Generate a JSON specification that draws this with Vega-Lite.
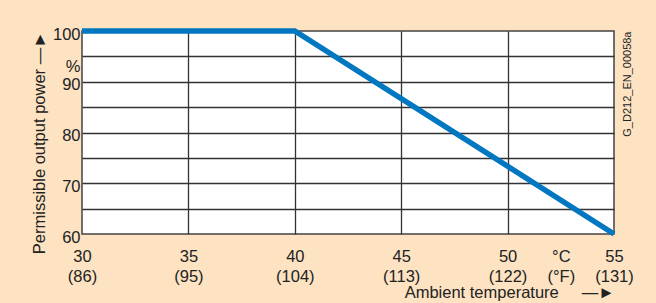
{
  "$schema": "https://vega.github.io/schema/vega-lite/v6.json",
  "width": 532,
  "height": 203,
  "autosize": {"type": "none"},
  "padding": {"left": 82, "top": 31, "right": 42, "bottom": 69},
  "background": "#FDE3C2",
  "config": {
    "font": "Liberation Sans",
    "view": {"fill": "white", "stroke": "#444444", "strokeWidth": 1.5}
  },
  "data": {
    "values": [
      {"temp": 30, "power": 100},
      {"temp": 40, "power": 100},
      {"temp": 55, "power": 60}
    ]
  },
  "layer": [
    {
      "mark": {"type": "line", "color": "#0077C0", "strokeWidth": 5.5, "clip": false, "strokeCap": "butt", "strokeJoin": "miter"},
      "encoding": {
        "x": {
          "field": "temp", "type": "quantitative",
          "scale": {"domain": [30, 55], "nice": false},
          "axis": {
            "values": [30, 35, 40, 45, 50, 52.5, 55],
            "labelExpr": "datum.value == 52.5 ? ['°C', '(°F)'] : [datum.label, '(' + format(datum.value * 9 / 5 + 32, 'd') + ')']",
            "labelFontSize": 16.5,
            "labelColor": "#222222",
            "labelLineHeight": 20,
            "labelPadding": 14,
            "labelFlush": false,
            "labelOverlap": false,
            "ticks": false,
            "domain": false,
            "grid": true,
            "gridColor": "#333333",
            "gridWidth": 1.3,
            "gridOpacity": {"condition": {"test": "datum.value == 52.5 || datum.value == 30 || datum.value == 55", "value": 0}, "value": 1},
            "title": "Ambient temperature\u00a0\u00a0\u00a0\u00a0\u00a0—►",
            "titleFontSize": 16.5,
            "titleFontWeight": "normal",
            "titleColor": "#222222",
            "titleAnchor": "end",
            "titlePadding": 0
          }
        },
        "y": {
          "field": "power", "type": "quantitative",
          "scale": {"domain": [60, 100], "nice": false, "zero": false},
          "axis": {
            "values": [60, 65, 70, 75, 80, 85, 90, 93.5, 95, 100],
            "labelExpr": "datum.value == 93.5 ? '%' : (datum.value % 10 == 0 ? datum.label : '')",
            "labelFontSize": 16.5,
            "labelColor": "#222222",
            "labelPadding": 2,
            "labelOffset": 3,
            "labelFlush": false,
            "labelOverlap": false,
            "labelBaseline": "middle",
            "ticks": false,
            "domain": false,
            "grid": true,
            "gridColor": "#333333",
            "gridWidth": 1.3,
            "gridOpacity": {"condition": {"test": "datum.value == 93.5 || datum.value == 60 || datum.value == 100", "value": 0}, "value": 1},
            "title": "Permissible output power —►",
            "titleFontSize": 16.5,
            "titleFontWeight": "normal",
            "titleColor": "#222222",
            "titleAnchor": "end",
            "titlePadding": 5
          }
        }
      }
    },
    {
      "mark": {"type": "line", "opacity": 0},
      "encoding": {
        "y": {
          "field": "power", "type": "quantitative",
          "scale": {"domain": [60, 100], "nice": false, "zero": false},
          "axis": {
            "orient": "right",
            "labels": false,
            "ticks": false,
            "domain": false,
            "grid": false,
            "title": "G_D212_EN_00058a",
            "titleFontSize": 11,
            "titleFontWeight": "normal",
            "titleColor": "#222222",
            "titleAngle": -90,
            "titleAnchor": "end",
            "titlePadding": 18
          }
        }
      }
    }
  ],
  "resolve": {"scale": {"y": "independent"}}
}
